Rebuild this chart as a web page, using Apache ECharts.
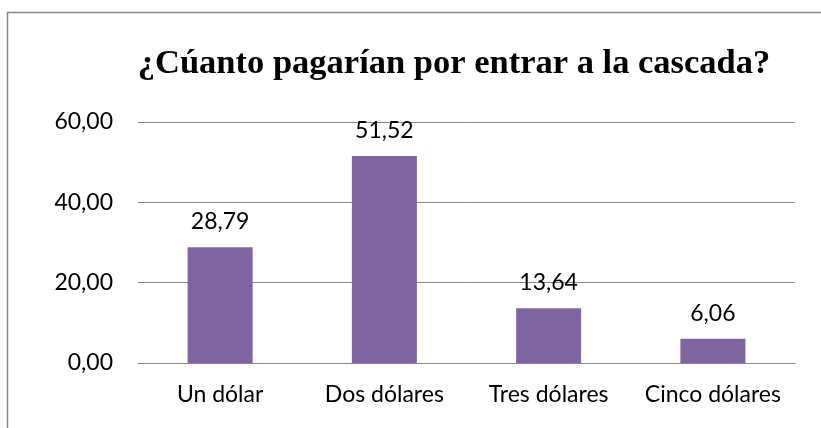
<!DOCTYPE html>
<html>
<head>
<meta charset="utf-8">
<script src="https://cdn.jsdelivr.net/npm/echarts@6/dist/echarts.min.js"></script>
<style>
html,body{margin:0;padding:0;background:#fff;}
#main{width:821px;height:428px;}
</style>
</head>
<body>
<div id="main"></div>
<script>
// datos del grafico
var categorias = ['Un dólar', 'Dos dólares', 'Tres dólares', 'Cinco dólares'];
var porcentajes = [28.79, 51.52, 13.64, 6.06];
var ejeMin = 0, ejeMax = 60, ejePaso = 20;

function coma(v){
	return v.toFixed(2).replace('.', ',');
}

var myChart = echarts.init(document.getElementById('main'));
var option = {
	animation: false,
	title: {
		text: '¿Cúanto pagarían por entrar a la cascada?',
		left: 449,
		textAlign: 'center',
		top: 42,
		textStyle: {
			fontFamily: 'Liberation Serif',
			fontWeight: 'bold',
			fontSize: 34.5,
			color: '#000'
		}
	},
	graphic: [{
		type: 'rect',
		shape: {x: 7.5, y: 12.5, width: 1200, height: 800},
		style: {fill: null, stroke: '#868686', lineWidth: 1.5},
		silent: true
	}],
	grid: {left: 138, top: 122, right: 26, bottom: 65},
	xAxis: {
		type: 'category',
		data: categorias,
		axisTick: {show: false},
		axisLine: {lineStyle: {color: '#868686', width: 1}},
		axisLabel: {
			interval: 0,
			hideOverlap: false,
			fontFamily: 'Lato',
			fontSize: 23,
			color: '#000',
			margin: 20
		}
	},
	yAxis: {
		type: 'value',
		min: ejeMin,
		max: ejeMax,
		interval: ejePaso,
		axisLine: {show: false},
		axisTick: {show: false},
		splitLine: {lineStyle: {color: '#868686', width: 1}},
		axisLabel: {
			fontFamily: 'Lato',
			fontSize: 23,
			color: '#000',
			margin: 25,
			formatter: function(v){ return coma(v); }
		}
	},
	series: [{
		type: 'bar',
		data: porcentajes,
		barWidth: 65,
		itemStyle: {color: '#8064A2'},
		label: {
			show: true,
			position: 'top',
			distance: 14,
			fontFamily: 'Lato',
			fontSize: 23,
			color: '#000',
			formatter: function(p){ return coma(p.value); }
		}
	}]
};
myChart.setOption(option);
</script>
</body>
</html>
